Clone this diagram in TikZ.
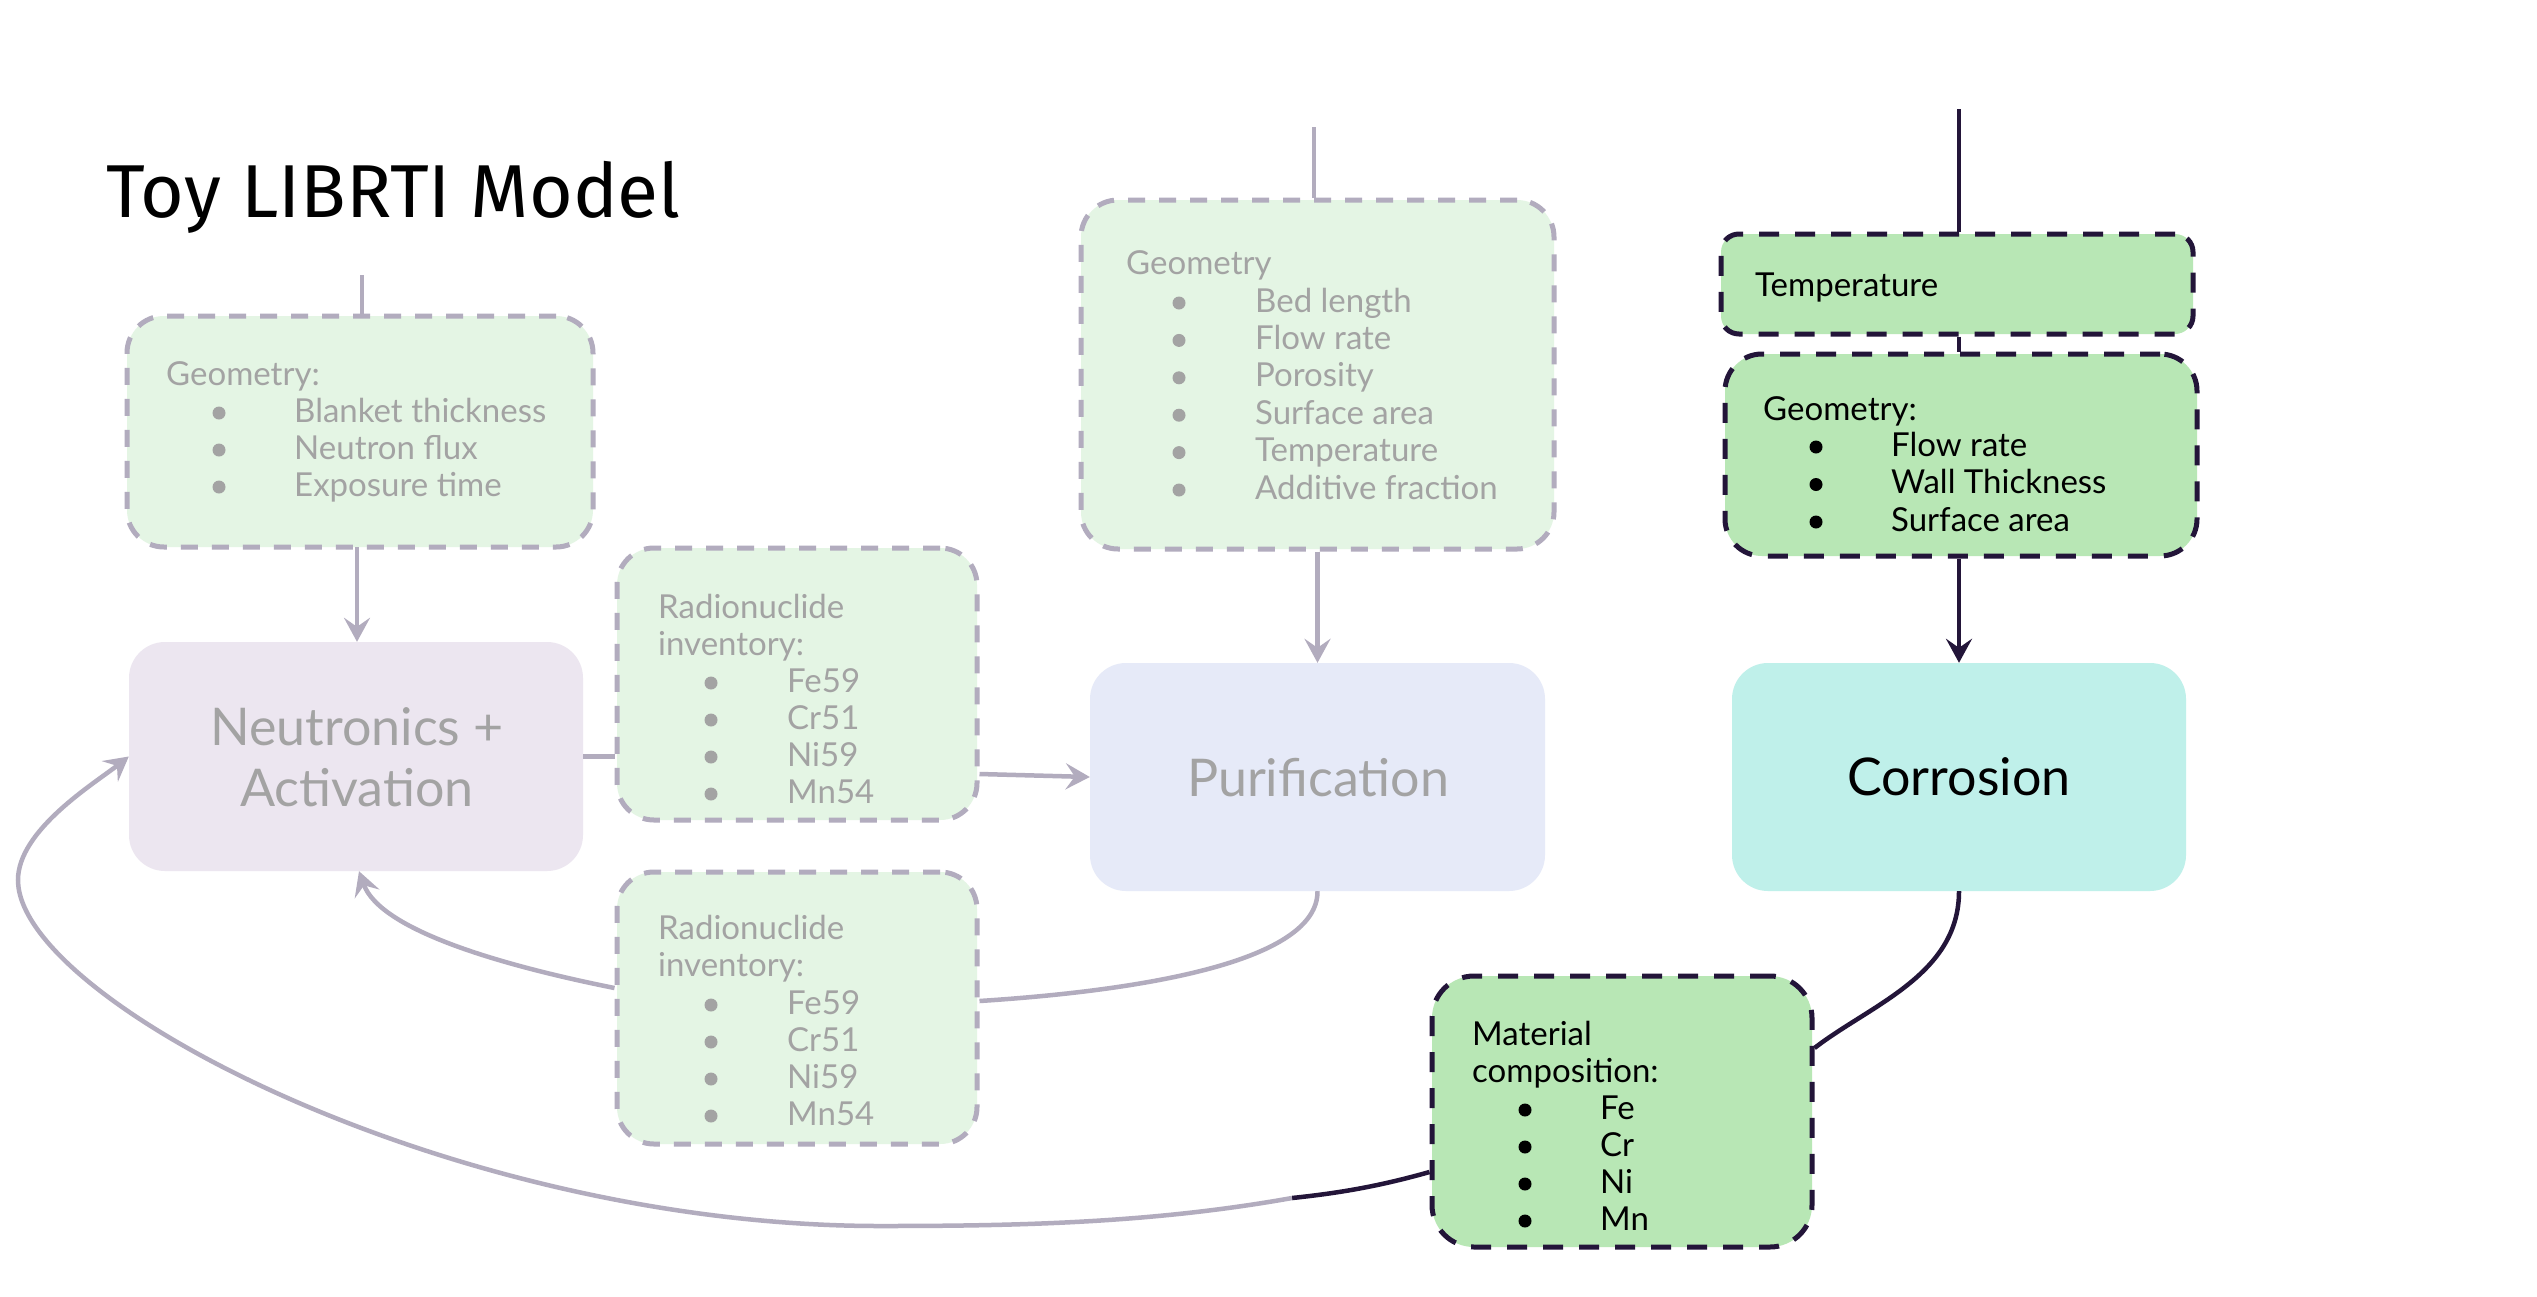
\documentclass[tikz,border=0pt]{standalone}
\usepackage{fontspec}
\setmainfont{Lato}
\newfontfamily\titlefont{Fira Sans}
\usetikzlibrary{arrows.meta}
\definecolor{fadeline}{HTML}{B2ACBE}
\definecolor{fadetext}{HTML}{A3A3A3}
\definecolor{fadegreen}{HTML}{E4F5E4}
\definecolor{neutfill}{HTML}{ECE6F0}
\definecolor{purifill}{HTML}{E6EAF8}
\definecolor{corrfill}{HTML}{BFF0EA}
\definecolor{livegreen}{HTML}{B8E7B5}
\definecolor{darkline}{HTML}{231539}
\tikzset{
  sz/.style 2 args={minimum width=#1pt, minimum height=#2pt},
  fadebox/.style={draw=fadeline, line width=5pt, dash pattern=on 17pt off 14pt, fill=fadegreen, rounded corners=37pt, inner sep=0pt},
  livebox/.style={draw=darkline, line width=5pt, dash pattern=on 20pt off 16pt, fill=livegreen, rounded corners=37pt, inner sep=0pt},
  modelbox/.style={rounded corners=36pt, inner sep=0pt},
  ftxt/.style={text=fadetext, anchor=base west, inner sep=0pt, font=\fontsize{33}{39}\selectfont},
  ltxt/.style={text=black, anchor=base west, inner sep=0pt, font=\fontsize{33}{39}\selectfont},
  bigtxt/.style={anchor=base, inner sep=0pt, font=\fontsize{52}{60}\selectfont},
  fedge/.style={draw=fadeline, line width=4.5pt},
  dedge/.style={draw=darkline, line width=4.5pt},
  arr/.style={-{Stealth[length=24pt,width=26pt,inset=9pt]}}
}
\begin{document}
\begin{tikzpicture}[x=1pt,y=1pt]
\fill[white] (0,0) rectangle (2537,-1296);
\useasboundingbox (0,0) rectangle (2537,-1296);

% title
\node[anchor=base west, inner sep=0pt, font=\titlefont\fontsize{75}{80}\selectfont] (title) at (106,-217) {Toy LIBRTI Model};

% boxes
\node[fadebox, sz={466}{231}] (geoA) at (360,-431.5) {};
\node[modelbox, fill=neutfill, sz={454}{229}] (neut) at (356,-756.5) {};
\node[fadebox, sz={360}{272}] (radU) at (797,-684) {};
\node[fadebox, sz={360}{272}] (radL) at (797,-1008) {};
\node[fadebox, sz={473}{349}] (geoC) at (1317.5,-374.5) {};
\node[modelbox, fill=purifill, sz={455}{228}] (puri) at (1317.5,-777) {};
\node[livebox, rounded corners=18pt, sz={472}{100}] (temp) at (1957,-284) {};
\node[livebox, sz={472}{202}] (geoR) at (1961,-455) {};
\node[modelbox, fill=corrfill, sz={454}{228}] (corr) at (1959,-777) {};
\node[livebox, rounded corners=42pt, sz={380}{271}] (mat) at (1622,-1111.5) {};

% big labels
\node[bigtxt, text=fadetext] (neutA) at (357,-745) {Neutronics +};
\node[bigtxt, text=fadetext] (neutB) at (357,-806) {Activation};
\node[bigtxt, text=fadetext] (purit) at (1318,-796) {Purification};
\node[bigtxt, text=black] (corrt) at (1959,-795) {Corrosion};

% geoA text
\node[ftxt] (geoAh) at (166,-385) {Geometry:};
\foreach \t [count=\i] in {Blanket thickness, Neutron flux, Exposure time} {
  \fill[fadetext] (219,{-(422+37*(\i-1))+9}) circle (6.5);
  \node[ftxt] (geoAi\i) at (294,{-(422+37*(\i-1))}) {\t};
}
% radU text
\node[ftxt] (radUh1) at (658,-618) {Radionuclide};
\node[ftxt] (radUh2) at (658,-655) {inventory:};
\foreach \t [count=\i] in {Fe59, Cr51, Ni59, Mn54} {
  \fill[fadetext] (711,{-(692+37*(\i-1))+9}) circle (6.5);
  \node[ftxt] (radUi\i) at (787,{-(692+37*(\i-1))}) {\t};
}
% radL text
\node[ftxt] (radLh1) at (658,-939) {Radionuclide};
\node[ftxt] (radLh2) at (658,-976) {inventory:};
\foreach \t [count=\i] in {Fe59, Cr51, Ni59, Mn54} {
  \fill[fadetext] (711,{-(1014+37*(\i-1))+9}) circle (6.5);
  \node[ftxt] (radLi\i) at (787,{-(1014+37*(\i-1))}) {\t};
}
% geoC text
\node[ftxt] (geoCh) at (1126,-274) {Geometry};
\foreach \t [count=\i] in {Bed length, Flow rate, Porosity, Surface area, Temperature, Additive fraction} {
  \fill[fadetext] (1179,{-(312+37.4*(\i-1))+9}) circle (6.5);
  \node[ftxt] (geoCi\i) at (1255,{-(312+37.4*(\i-1))}) {\t};
}
% temp text
\node[ltxt] (tempt) at (1755,-296) {Temperature};
% geoR text
\node[ltxt] (geoRh) at (1763,-420) {Geometry:};
\foreach \t [count=\i] in {Flow rate, Wall Thickness, Surface area} {
  \fill[black] (1816,{-(456+37.5*(\i-1))+9}) circle (6.5);
  \node[ltxt] (geoRi\i) at (1891,{-(456+37.5*(\i-1))}) {\t};
}
% mat text
\node[ltxt] (math1) at (1472,-1045) {Material};
\node[ltxt] (math2) at (1472,-1082) {composition:};
\foreach \t [count=\i] in {Fe, Cr, Ni, Mn} {
  \fill[black] (1525,{-(1119+37*(\i-1))+9}) circle (6.5);
  \node[ltxt] (mati\i) at (1600,{-(1119+37*(\i-1))}) {\t};
}

% free ends
\coordinate (inA) at (362,-275);
\coordinate (inC) at (1314,-127);
\coordinate (inT) at (1959,-109);
\coordinate (fade) at (1292,-1198);

% connectors
\draw[fedge] (inA) -- (inA |- geoA.north);
\draw[fedge, arr] (357,-547) coordinate (a1) -- (a1 |- neut.north);
\draw[fedge] (neut.east) -- (neut.east -| radU.west);
\draw[fedge, arr] (radU.east |- 0,-774) -- (puri.west);
\draw[fedge] (inC) -- (inC |- geoC.north);
\draw[fedge, arr] (geoC.south) -- (puri.north);
\draw[fedge] (puri.south) .. controls (1318,-960) and (1150,-990) .. (radL.east |- 0,-1001);
\draw[fedge, arr] (radL.west |- 0,-988) .. controls (500,-965) and (380,-930) .. (neut.south -| 359,0);

\draw[dedge] (inT) -- (inT |- temp.north);
\draw[dedge] (temp.south -| 1959,0) -- (geoR.north -| 1959,0);
\draw[dedge, arr] (geoR.south -| 1959,0) -- (corr.north);
\draw[dedge] (corr.south) .. controls (1959,-975) and (1870,-1005) .. (mat.east |- 0,-1048);
\draw[dedge] (mat.west |- 0,-1172) .. controls (1380,-1186) and (1340,-1193) .. (fade);
\draw[fedge, arr] (fade) .. controls (1152,-1223) and (1020,-1226) .. (880,-1226)
  .. controls (450,-1226) and (18,-1000) .. (18,-880)
  .. controls (18,-830) and (95,-783) .. (neut.west);
\end{tikzpicture}
\end{document}
